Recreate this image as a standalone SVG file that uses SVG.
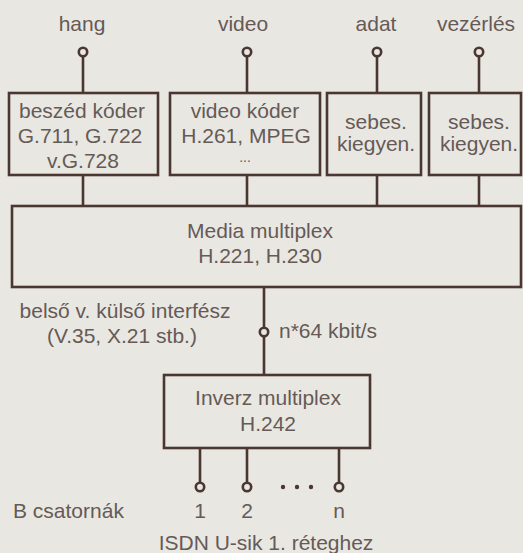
<svg xmlns="http://www.w3.org/2000/svg" width="523" height="553" viewBox="0 0 523 553">
  <style>
    .bg { fill: #e9e7e2; }
    .box { fill: none; stroke: #4a3731; stroke-width: 2.6; }
    .wire { fill: none; stroke: #4a3731; stroke-width: 2.6; }
    .port { fill: #e9e7e2; stroke: #4a3731; stroke-width: 2.6; }
    .dot { fill: #4a3731; }
    text { font-family: "Liberation Sans", Arial, sans-serif; font-size: 21px; fill: #655a56; }
    .c { text-anchor: middle; }
  </style>
  <rect class="bg" x="0" y="0" width="523" height="553"/>

  <!-- connectors -->
  <g id="connectors">
    <path class="wire" d="M83 56V93 M247 56V93 M377 56V93 M479 56V93"/>
    <path class="wire" d="M83 175V206 M247 175V206 M377 175V206 M479 175V206"/>
    <path class="wire" d="M264 287V375"/>
    <path class="wire" d="M200 448V483 M247 448V483 M339 448V483"/>
  </g>

  <!-- input ports -->
  <g id="inputs">
    <text class="c" x="82" y="31">hang</text>
    <text class="c" x="243" y="31">video</text>
    <text class="c" x="376" y="31">adat</text>
    <text class="c" x="476" y="31">vezérlés</text>
    <circle class="port" cx="83" cy="52" r="4.2"/>
    <circle class="port" cx="247" cy="52" r="4.2"/>
    <circle class="port" cx="377" cy="52" r="4.2"/>
    <circle class="port" cx="479" cy="52" r="4.2"/>
  </g>

  <g id="speech-coder">
    <rect class="box" x="9" y="93" width="149" height="82"/>
    <text class="c" x="82" y="118">beszéd kóder</text>
    <text class="c" x="80" y="143">G.711, G.722</text>
    <text class="c" x="83" y="168">v.G.728</text>
  </g>

  <g id="video-coder">
    <rect class="box" x="170" y="93" width="150" height="82"/>
    <text class="c" x="245" y="118">video kóder</text>
    <text class="c" x="246" y="143">H.261, MPEG</text>
    <text class="c" x="245" y="162" style="font-size:14px">...</text>
  </g>

  <g id="rate-adapt-data">
    <rect class="box" x="327" y="93" width="94" height="82"/>
    <text class="c" x="376" y="129">sebes.</text>
    <text class="c" x="376" y="151">kiegyen.</text>
  </g>

  <g id="rate-adapt-control">
    <rect class="box" x="429" y="93" width="92" height="82"/>
    <text class="c" x="479" y="129">sebes.</text>
    <text class="c" x="479" y="151">kiegyen.</text>
  </g>

  <g id="media-multiplex">
    <rect class="box" x="12" y="206" width="509" height="81"/>
    <text class="c" x="260" y="238">Media multiplex</text>
    <text class="c" x="260" y="263">H.221, H.230</text>
  </g>

  <g id="interface">
    <text class="c" x="125" y="318">belső v. külső interfész</text>
    <text class="c" x="122" y="343">(V.35, X.21 stb.)</text>
    <circle class="port" cx="264" cy="332" r="4.2"/>
    <text x="279" y="338">n*64 kbit/s</text>
  </g>

  <g id="inverse-multiplex">
    <rect class="box" x="164" y="375" width="206" height="73"/>
    <text class="c" x="268" y="405">Inverz multiplex</text>
    <text class="c" x="268" y="431">H.242</text>
  </g>

  <g id="b-channels">
    <circle class="port" cx="200" cy="487" r="4.2"/>
    <circle class="port" cx="247" cy="487" r="4.2"/>
    <circle class="port" cx="339" cy="487" r="4.2"/>
    <circle class="dot" cx="283" cy="487" r="2.2"/>
    <circle class="dot" cx="297" cy="487" r="2.2"/>
    <circle class="dot" cx="311" cy="487" r="2.2"/>
    <text x="13" y="518">B csatornák</text>
    <text class="c" x="200" y="518">1</text>
    <text class="c" x="247" y="518">2</text>
    <text class="c" x="339" y="518">n</text>
    <text class="c" x="266" y="550">ISDN U-sik 1. réteghez</text>
  </g>
</svg>
